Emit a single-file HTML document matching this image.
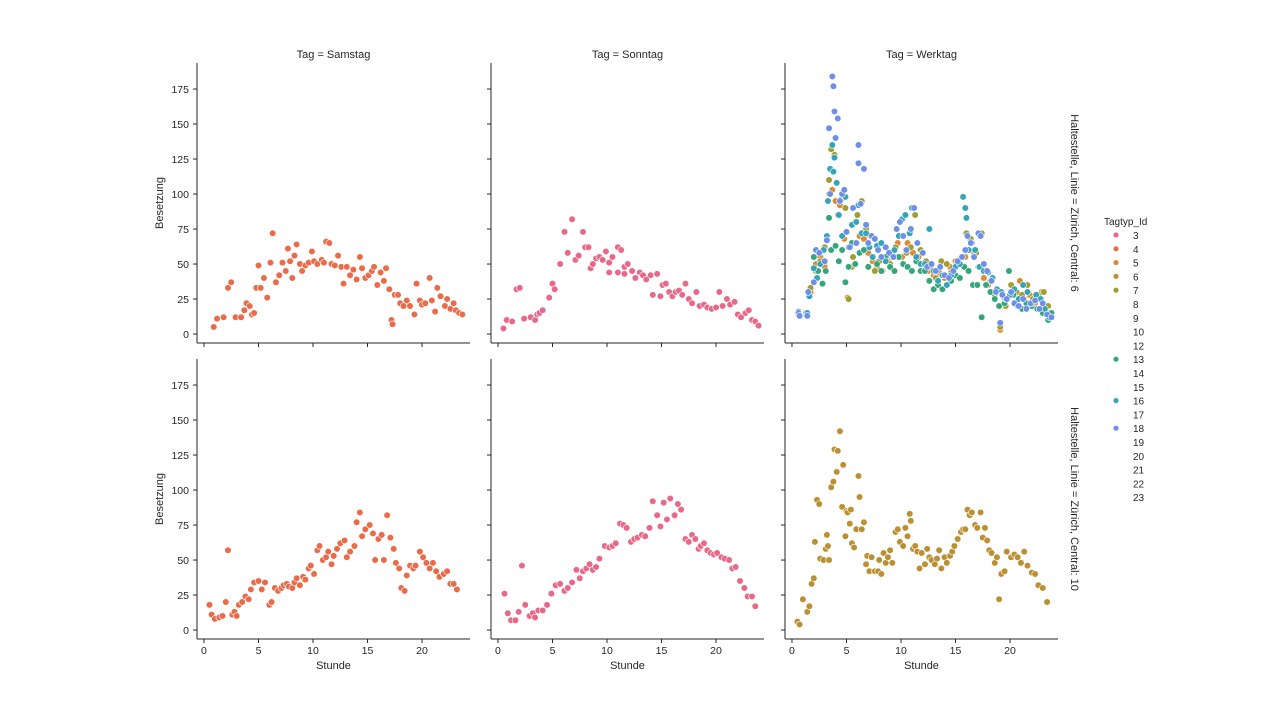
<!DOCTYPE html>
<html><head><meta charset="utf-8">
<style>
html,body{margin:0;padding:0;background:#fff;}
svg{display:block;font-family:"Liberation Sans","DejaVu Sans",sans-serif;}
</style></head>
<body>
<svg id="chart" width="1280" height="720" viewBox="0 0 1280 720" xmlns="http://www.w3.org/2000/svg"></svg>
<script>
// ---- data ----
const xTicks = [0, 5, 10, 15, 20];
const yTicks = [0, 25, 50, 75, 100, 125, 150, 175];
const colTitles = ["Tag = Samstag", "Tag = Sonntag", "Tag = Werktag"];
const rowTitles = ["Haltestelle, Linie = Zürich, Central: 6", "Haltestelle, Linie = Zürich, Central: 10"];
const legendIds = [3,4,5,6,7,8,9,10,12,13,14,15,16,17,18,19,20,21,22,23];
const legendColors = {3:"#e8688a",4:"#ea6b4a",5:"#d98a35",6:"#bb9032",7:"#a39c31",13:"#33a67c",16:"#35a3b8",18:"#6e8fe8"};

const samstag6 = [[0.9,5],[1.2,11],[1.8,12],[2.2,33],[2.5,37],[2.9,12],[3.4,12],[3.7,17],[3.9,22],[4.2,20],[4.4,14],[4.6,15],[4.8,33],[5,49],[5.2,33],[5.5,40],[5.8,26],[6.1,51],[6.3,72],[6.6,37],[6.9,42],[7.2,51],[7.5,45],[7.7,61],[7.9,52],[8.1,40],[8.3,56],[8.5,64],[8.8,50],[9.0,45],[9.3,49],[9.6,51],[9.9,59],[10.1,52],[10.4,50],[10.8,53],[11.0,51],[11.2,66],[11.5,65],[11.7,50],[12.0,49],[12.3,56],[12.6,48],[12.8,36],[13.1,48],[13.4,42],[13.7,46],[14.0,39],[14.3,55],[14.5,47],[14.8,40],[15.1,42],[15.4,45],[15.6,48],[15.9,35],[16.2,44],[16.5,38],[16.7,47],[17.0,32],[17.2,10],[17.3,7],[17.5,28],[17.8,28],[18.0,22],[18.3,20],[18.6,24],[18.9,20],[19.3,14],[19.5,36],[19.8,24],[20.0,21],[20.3,22],[20.7,40],[20.9,24],[21.2,16],[21.4,33],[21.7,27],[22.1,20],[22.3,25],[22.6,18],[22.9,22],[23.1,17],[23.4,15],[23.7,14]];
const sonntag6 = [[0.5,4],[0.8,10],[1.3,9],[1.7,32],[2.0,33],[2.4,11],[3.0,12],[3.4,10],[3.6,14],[3.8,15],[4.1,17],[4.7,26],[5.0,36],[5.2,32],[5.7,50],[6.1,73],[6.4,58],[6.8,82],[7.1,53],[7.4,56],[7.8,73],[8.0,62],[8.3,62],[8.5,47],[8.7,50],[9.0,54],[9.3,55],[9.6,53],[9.9,59],[10.2,51],[10.5,55],[11.0,62],[11.3,60],[11.6,48],[11.9,50],[12.3,45],[12.6,40],[13.0,44],[13.3,42],[13.6,39],[14.0,42],[14.2,28],[14.6,43],[14.9,27],[15.1,35],[15.4,36],[15.7,30],[16.0,27],[16.3,30],[16.6,31],[16.9,28],[17.2,36],[17.5,25],[17.8,22],[18.2,30],[18.5,20],[18.9,21],[19.2,19],[19.6,18],[20.0,19],[20.3,30],[20.6,20],[21.0,25],[21.3,21],[21.7,23],[22.0,14],[22.3,12],[22.7,15],[23.0,17],[23.3,10],[23.6,9],[23.9,6],[10.2,44],[11.0,44],[11.6,43]];
const samstag10 = [[0.5,18],[0.7,11],[1.0,8],[1.4,9],[1.7,10],[2.0,20],[2.2,57],[2.6,11],[2.8,13],[3.0,10],[3.2,18],[3.5,20],[3.8,24],[4.1,22],[4.3,29],[4.6,34],[5.0,35],[5.3,29],[5.6,34],[6.0,18],[6.2,20],[6.5,30],[6.8,28],[7.1,30],[7.3,32],[7.6,33],[7.8,31],[8.1,30],[8.3,34],[8.5,37],[8.8,32],[9.1,38],[9.3,36],[9.6,44],[9.8,46],[10.1,40],[10.4,57],[10.6,60],[10.9,50],[11.2,52],[11.4,56],[11.7,47],[11.9,53],[12.2,58],[12.5,62],[12.9,64],[13.1,52],[13.4,56],[13.8,60],[14.0,77],[14.3,84],[14.5,67],[14.8,72],[15.2,75],[15.5,69],[15.7,50],[16.0,65],[16.3,68],[16.5,50],[16.8,82],[17.1,66],[17.4,58],[17.6,48],[17.9,44],[18.1,30],[18.4,28],[18.6,39],[18.9,46],[19.2,44],[19.4,46],[19.8,56],[20.1,52],[20.4,48],[20.7,44],[21.0,48],[21.3,42],[21.6,38],[22.0,40],[22.3,42],[22.6,33],[22.9,33],[23.2,29]];
const sonntag10 = [[0.6,26],[0.9,12],[1.2,7],[1.6,7],[1.9,13],[2.2,46],[2.5,18],[2.9,10],[3.2,12],[3.4,9],[3.7,14],[4.1,14],[4.5,18],[4.9,26],[5.3,32],[5.7,33],[6.1,28],[6.4,30],[6.8,34],[7.2,43],[7.5,37],[7.8,42],[8.1,44],[8.4,47],[8.7,43],[9.0,45],[9.3,51],[9.8,60],[10.2,59],[10.5,60],[10.8,62],[11.2,76],[11.5,75],[11.8,73],[12.2,63],[12.5,65],[12.8,66],[13.2,68],[13.5,67],[13.9,73],[14.2,92],[14.6,82],[14.9,74],[15.2,91],[15.5,79],[15.8,94],[16.2,82],[16.5,90],[16.8,86],[17.2,65],[17.5,63],[17.8,68],[18.1,65],[18.4,58],[18.6,60],[18.9,62],[19.2,57],[19.5,55],[19.8,54],[20.1,55],[20.5,52],[20.8,51],[21.2,50],[21.5,44],[21.8,45],[22.2,35],[22.6,30],[22.9,24],[23.3,24],[23.6,17]];
const werktag10 = [[0.5,6],[0.7,4],[1.0,22],[1.4,13],[1.6,17],[1.8,33],[2.0,37],[2.1,63],[2.3,93],[2.5,90],[2.6,51],[2.9,50],[3.1,58],[3.2,68],[3.3,60],[3.4,50],[3.6,102],[3.8,106],[3.9,129],[4.1,113],[4.2,128],[4.4,142],[4.6,88],[4.7,118],[4.9,67],[5.0,85],[5.1,84],[5.3,76],[5.4,86],[5.5,62],[5.7,59],[5.9,72],[6.1,110],[6.2,95],[6.4,72],[6.6,77],[6.8,47],[6.9,53],[7.1,42],[7.3,52],[7.6,42],[7.9,42],[8.0,50],[8.2,40],[8.4,55],[8.6,48],[8.8,52],[9.0,57],[9.2,48],[9.5,70],[9.7,72],[9.9,63],[10.2,60],[10.4,73],[10.6,67],[10.8,83],[10.9,78],[11.1,58],[11.3,60],[11.5,56],[11.7,44],[11.9,55],[12.2,47],[12.4,58],[12.6,52],[12.8,50],[13.1,47],[13.3,51],[13.5,57],[13.7,44],[14.0,52],[14.2,48],[14.5,53],[14.7,56],[14.9,60],[15.2,65],[15.5,70],[15.7,72],[15.9,72],[16.1,86],[16.3,82],[16.5,84],[16.8,75],[17.0,73],[17.3,84],[17.5,66],[17.7,73],[17.9,64],[18.1,57],[18.3,55],[18.6,48],[18.8,52],[19.0,22],[19.2,40],[19.5,42],[19.7,56],[20.1,52],[20.4,54],[20.7,52],[21.0,48],[21.3,56],[21.6,46],[22.0,41],[22.3,40],[22.6,32],[23.0,30],[23.4,20]];
const werktag6_id13 = [[1.3,15],[1.5,30],[2.0,55],[2.4,45],[2.8,36],[3.1,45],[3.4,83],[3.6,60],[4.0,63],[4.3,52],[4.6,60],[4.9,37],[5.2,48],[5.5,65],[5.8,50],[6.2,58],[6.6,60],[7.0,48],[7.4,55],[7.8,50],[8.2,45],[8.6,55],[9.0,48],[9.4,45],[9.8,55],[10.2,50],[10.6,48],[11.0,45],[11.4,52],[11.8,45],[12.2,45],[12.6,38],[13.0,32],[13.4,35],[13.8,32],[14.2,35],[14.6,38],[15.0,42],[15.4,40],[15.8,48],[16.2,45],[16.6,35],[17.0,35],[17.4,12],[17.8,35],[18.2,30],[18.6,25],[19.0,20],[19.5,22],[19.9,45],[20.3,28],[20.7,20],[21.1,18],[21.5,22],[22.0,20],[22.5,18],[23.0,15],[23.5,10],[23.8,15]];
const werktag6_id5 = [[0.6,14],[1.4,14],[1.7,30],[2.2,50],[2.6,55],[3.0,48],[3.4,100],[3.7,103],[4.0,95],[4.4,92],[4.8,68],[5.1,26],[5.5,48],[5.8,80],[6.2,70],[6.6,68],[7.0,58],[7.4,52],[7.8,48],[8.3,45],[8.8,52],[9.2,58],[9.7,65],[10.1,55],[10.6,65],[11.1,58],[11.6,55],[12.0,50],[12.5,45],[13.0,42],[13.5,44],[14.0,40],[14.5,48],[15.0,52],[15.4,50],[15.9,55],[16.3,68],[16.7,58],[17.1,48],[17.6,40],[18.0,35],[18.5,30],[19.1,3],[19.5,25],[20.0,28],[20.4,28],[20.9,38],[21.3,25],[21.8,28],[22.3,22],[22.9,30],[23.4,15]];
const werktag6_id7 = [[0.6,14],[1.4,14],[1.7,33],[2.2,45],[2.6,52],[3.0,62],[3.4,110],[3.6,132],[3.7,135],[3.9,128],[4.2,85],[4.5,96],[4.9,90],[5.2,25],[5.6,55],[6.0,85],[6.4,95],[6.8,75],[7.2,70],[7.6,45],[8.0,52],[8.5,55],[9.0,50],[9.5,62],[10.0,70],[10.5,58],[10.9,62],[11.3,85],[11.8,60],[12.3,52],[12.7,48],[13.2,40],[13.7,52],[14.2,50],[14.6,44],[15.1,50],[15.6,55],[16.0,72],[16.4,68],[16.9,58],[17.4,72],[17.8,45],[18.2,38],[18.6,28],[19.1,5],[19.6,20],[20.1,35],[20.6,30],[21.1,28],[21.6,35],[22.1,25],[22.6,28],[23.1,30],[23.5,20]];
const werktag6_id16 = [[0.6,16],[1.4,15],[1.6,27],[2.0,47],[2.3,40],[2.6,50],[2.9,60],[3.2,70],[3.3,95],[3.5,118],[3.7,135],[3.8,116],[3.9,126],[4.1,108],[4.3,85],[4.6,70],[4.9,98],[5.2,62],[5.5,78],[5.9,80],[6.1,92],[6.4,72],[6.8,72],[7.1,62],[7.4,55],[7.8,63],[8.2,65],[8.6,52],[9.0,58],[9.4,60],[9.8,70],[10.1,82],[10.4,85],[10.8,72],[11.0,90],[11.4,55],[11.8,50],[12.2,50],[12.6,75],[13.0,45],[13.4,38],[13.8,42],[14.2,35],[14.6,42],[15.0,48],[15.4,50],[15.7,98],[15.9,90],[16.0,83],[16.2,60],[16.5,65],[16.8,60],[17.2,48],[17.6,45],[18.0,44],[18.4,40],[18.8,32],[19.2,30],[19.6,25],[20.0,28],[20.4,32],[20.8,25],[21.2,35],[21.6,30],[22.0,22],[22.4,28],[22.8,25],[23.2,18],[23.6,12]];
const werktag6_id18 = [[0.6,15],[0.7,13],[1.4,13],[1.5,30],[2.0,37],[2.2,60],[2.5,58],[3.0,52],[3.2,67],[3.4,147],[3.5,100],[3.7,184],[3.8,177],[3.9,159],[4.0,140],[4.2,154],[4.4,95],[4.6,100],[4.8,103],[5.0,73],[5.3,62],[5.6,90],[5.9,65],[6.1,135],[6.1,122],[6.3,93],[6.6,118],[6.8,78],[7.0,65],[7.3,70],[7.6,68],[7.9,60],[8.2,55],[8.6,62],[8.9,58],[9.3,55],[9.6,75],[9.9,80],[10.2,70],[10.5,60],[10.9,75],[11.2,90],[11.5,65],[12.0,58],[12.4,48],[12.8,50],[13.2,45],[13.6,48],[14.0,42],[14.4,40],[14.8,45],[15.2,52],[15.6,55],[15.9,60],[16.1,70],[16.4,65],[16.7,55],[17.1,72],[17.3,70],[17.6,50],[17.9,45],[18.3,38],[18.7,30],[19.1,8],[19.3,28],[19.7,25],[20.1,30],[20.4,22],[20.8,20],[21.2,25],[21.5,18],[21.9,22],[22.3,24],[22.7,18],[23.0,22],[23.4,14],[23.8,12]];

const panels = [
  {r:0,c:0,series:[{id:4,pts:samstag6}]},
  {r:0,c:1,series:[{id:3,pts:sonntag6}]},
  {r:0,c:2,series:[{id:5,pts:werktag6_id5},{id:7,pts:werktag6_id7},{id:13,pts:werktag6_id13},{id:16,pts:werktag6_id16},{id:18,pts:werktag6_id18}]},
  {r:1,c:0,series:[{id:4,pts:samstag10}]},
  {r:1,c:1,series:[{id:3,pts:sonntag10}]},
  {r:1,c:2,series:[{id:6,pts:werktag10}]}
];

// ---- layout ----
const NS = "http://www.w3.org/2000/svg";
const svg = document.getElementById("chart");
const colLeft = [197, 491, 785], colW = 273;
const rowTop = [63, 359], rowH = 280;
const xMin = -0.64, xMax = 24.4, yMin = -6.4, yMax = 193.6;
function xs(c, v){ return colLeft[c] + (v - xMin) / (xMax - xMin) * colW; }
function ys(r, v){ return rowTop[r] + rowH - (v - yMin) / (yMax - yMin) * rowH; }
function mk(tag, attrs, parent){
  const e = document.createElementNS(NS, tag);
  for (const k in attrs) e.setAttribute(k, attrs[k]);
  (parent || svg).appendChild(e);
  return e;
}
const txtCol = "#262626";

panels.forEach(p => {
  const g = mk("g", {});
  
  
  const x0 = colLeft[p.c], yb = rowTop[p.r] + rowH;
  // spines
  const ls = mk("line", {x1:x0, y1:rowTop[p.r], x2:x0, y2:yb, stroke:txtCol, "stroke-width":1}, g);
  
  
  const bs = mk("line", {x1:x0, y1:yb, x2:x0+colW, y2:yb, stroke:txtCol, "stroke-width":1}, g);
  
  
  // y ticks
  yTicks.forEach(t => {
    const y = ys(p.r, t);
    mk("line", {x1:x0-4, y1:y, x2:x0, y2:y, stroke:txtCol, "stroke-width":1}, g);
    if (p.c === 0) {
      const tl = mk("text", {x:x0-8, y:y+4, "text-anchor":"end", "font-size":10.5, fill:txtCol}, g);
      tl.textContent = t;
      
      
    }
  });
  // x ticks
  xTicks.forEach(t => {
    const x = xs(p.c, t);
    mk("line", {x1:x, y1:yb, x2:x, y2:yb+4, stroke:txtCol, "stroke-width":1}, g);
    if (p.r === 1) {
      const tl = mk("text", {x:x, y:yb+15, "text-anchor":"middle", "font-size":10.5, fill:txtCol}, g);
      tl.textContent = t;
      
      
    }
  });
  // points
  p.series.forEach(s => {
    const sg = mk("g", {}, g);
    
    
    s.pts.forEach(d => {
      const c = mk("circle", {cx:xs(p.c, d[0]), cy:ys(p.r, d[1]), r:3.3, fill:legendColors[s.id], stroke:"#fff", "stroke-width":0.6}, sg);
      
      
    });
  });
  if (p.r === 0) {
    const t = mk("text", {x:x0+colW/2, y:58, "text-anchor":"middle", "font-size":11, fill:txtCol}, g);
    t.textContent = colTitles[p.c];
    
    
  }
  if (p.c === 0) {
    const cy = rowTop[p.r] + rowH/2;
    const t = mk("text", {x:0, y:0, "text-anchor":"middle", "font-size":11, fill:txtCol, transform:"translate(163," + cy + ") rotate(-90)"}, g);
    t.textContent = "Besetzung";
    
    
  }
  if (p.r === 1) {
    const t = mk("text", {x:x0+colW/2, y:669, "text-anchor":"middle", "font-size":11, fill:txtCol}, g);
    t.textContent = "Stunde";
    
    
  }
  if (p.c === 2) {
    const cy = rowTop[p.r] + rowH/2;
    const t = mk("text", {x:0, y:0, "text-anchor":"middle", "font-size":11, fill:txtCol, transform:"translate(1071," + cy + ") rotate(90)"}, g);
    t.textContent = rowTitles[p.r];
    
    
  }
});

// legend
const lg = mk("g", {});


const lt = mk("text", {x:1104, y:225, "font-size":10, fill:txtCol}, lg);
lt.textContent = "Tagtyp_Id";


legendIds.forEach((id, i) => {
  const y = 236 + i * 13.8;
  const eg = mk("g", {}, lg);
  
  
  if (legendColors[id] && id !== 6 || id === 6) {
    if (legendColors[id]) mk("circle", {cx:1116, cy:y-1, r:2.8, fill:legendColors[id], stroke:"#fff", "stroke-width":0.5}, eg);
  }
  const t = mk("text", {x:1133, y:y+3, "font-size":10, fill:txtCol}, eg);
  t.textContent = id;
});
</script>
</body></html>
